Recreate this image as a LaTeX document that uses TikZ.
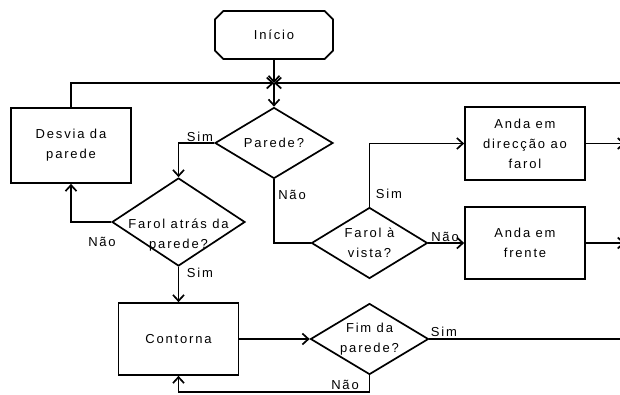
\documentclass[tikz,border=0pt]{standalone}
\usepackage{fontspec}
\setmainfont[LetterSpace=14]{Liberation Sans}
\usepackage{tikz}
\usetikzlibrary{arrows.meta,shapes.geometric,shapes.misc}

\tikzset{
  box/.style={draw, rectangle, minimum width=120pt, minimum height=73pt, align=center, inner sep=0pt},
  decision/.style={draw, diamond, minimum width=118pt, minimum height=71pt, inner sep=0pt},
  terminal/.style={draw, chamfered rectangle, chamfered rectangle xsep=15pt, minimum width=118pt, minimum height=48pt, inner sep=0pt},
  flow/.style={-{Straight Barb[length=6pt,width=11pt]}},
}

\begin{document}
\begin{tikzpicture}[x=1pt, y=-1pt, line width=1.7pt, font=\fontsize{13}{20}\selectfont]
  \useasboundingbox (0,0) rectangle (620,394);
  \clip (0,0) rectangle (620,394);

  \node[terminal] (start) at (274,35) {Início};
  \coordinate (join) at (274,83);
  \coordinate (back) at (640,83);
  \node[decision, label={center:Parede?}] (wall) at (274,143) {};
  \node[box, minimum height=75pt] (avoid) at (71,145.5) {Desvia da\\parede};
  \node[decision, minimum width=133pt, minimum height=88pt,
        label={[align=center, yshift=-13pt]center:Farol atrás da\\parede?}] (behind) at (178.5,222) {};
  \node[box, minimum height=72pt] (around) at (178.5,339) {Contorna};
  \node[decision, minimum width=116pt, label={[align=center]center:Farol à\\vista?}] (seen) at (369.5,243) {};
  \node[decision, label={[align=center]center:Fim da\\parede?}] (wallend) at (369.5,339) {};
  \coordinate (loop) at (369.5,392);
  \coordinate (exit) at (640,339);
  \node[box] (toward) at (525,143.5) {Anda em\\direcção ao\\farol};
  \node[box, minimum height=72pt] (ahead) at (525,243) {Anda em\\frente};
  \coordinate (out1) at (625,143.5);
  \coordinate (out2) at (625,243);

  % labels on the branches
  \node (yes1) at (200,137) {Sim};
  \node (no1) at (292,195) {Não};
  \node (no2) at (102,242) {Não};
  \node (yes2) at (200,273) {Sim};
  \node (yes3) at (389,194) {Sim};
  \node (no3) at (445,237) {Não};
  \node (yes4) at (444,332) {Sim};
  \node (no4) at (345,385) {Não};

  \draw [flow] (start) -- (join);
  \draw [flow] (join) -- (wall);
  \draw [flow] (avoid) |- (join);
  \draw [flow] (back) -- (join);
  \draw [flow] (wall.west) -| (behind.north);
  \draw [flow] (behind.west) -| (avoid.south);
  \draw [flow] (behind) -- (around);
  \draw [flow] (around) -- (wallend);
  \draw [flow] (wallend.south) -- (loop) -| (around.south);
  \draw [-] (wallend.east) -- (exit);
  \draw [-] (wall.south) |- (seen.west);
  \draw [flow] (seen.north) |- (toward.west);
  \draw [flow] (seen) -- (ahead);
  \draw [flow] (toward) -- (out1);
  \draw [flow] (ahead) -- (out2);
\end{tikzpicture}
\end{document}
